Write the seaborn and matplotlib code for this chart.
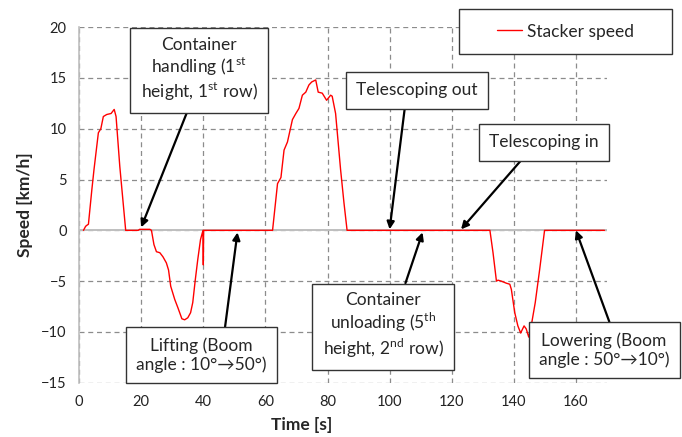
"""
Stacker speed over one handling cycle, with the phase annotations.
"""

import matplotlib
matplotlib.use("Agg")
import matplotlib.pyplot as plt
import matplotlib.patches as mpatches
import pandas as pd
import seaborn as sns

# speed trace (time in s, speed in km/h)
time_s = [1.4, 2.1, 2.5, 3.0, 4.1, 4.8, 6.2, 7.0, 7.8, 8.9, 10.3, 10.8, 11.3,
          11.9, 13.1, 15.0, 19.0, 19.5, 22.8, 23.3, 24.1, 24.9, 26.0, 27.0,
          28.1, 28.8, 29.5, 30.8, 31.8, 33.1, 34.0, 35.0, 35.9, 36.6, 37.4,
          38.2, 39.1, 39.9, 40.0, 40.1, 62.3, 63.9, 65.0, 66.0, 67.1, 68.7,
          69.8, 70.8, 71.9, 73.0, 74.0, 74.9, 76.2, 77.0, 78.3, 79.7, 81.0,
          81.5, 82.6, 84.2, 85.3, 86.3, 132.3, 133.3, 134.4, 134.9, 136.0,
          137.6, 138.7, 139.2, 140.3, 141.3, 142.2, 143.3, 144.0, 144.8,
          145.6, 146.9, 148.3, 149.9, 169.2]
speed_kmh = [0.0, 0.4, 0.5, 0.6, 4.0, 6.0, 9.6, 10.0, 11.2, 11.4, 11.5, 11.7,
             11.9, 11.2, 6.3, 0.0, 0.0, 0.1, 0.1, 0.0, -1.4, -2.1, -2.2, -2.6,
             -3.2, -3.9, -5.5, -6.8, -7.6, -8.7, -8.8, -8.6, -8.1, -7.1, -4.9,
             -2.9, -0.9, 0.0, -3.4, 0.0, 0.0, 4.6, 5.2, 7.9, 8.7, 10.9, 11.5,
             12.0, 13.3, 13.6, 14.3, 14.6, 14.8, 13.6, 13.5, 12.8, 13.3, 13.2,
             11.5, 6.0, 2.7, 0.0, 0.0, -2.2, -5.0, -4.9, -5.0, -5.2, -5.3,
             -5.8, -8.1, -9.4, -10.1, -9.4, -9.7, -10.5, -9.4, -7.1, -3.9,
             0.0, 0.0]

x_ticks = [0, 20, 40, 60, 80, 100, 120, 140, 160]
y_ticks = [-15, -10, -5, 0, 5, 10, 15, 20]

# annotation labels, arrow tips (data) and box centres (data)
labels = [
    "Container\nhandling (1$^{\\mathrm{st}}$\nheight, 1$^{\\mathrm{st}}$ row)",
    "Telescoping out",
    "Telescoping in",
    "Lifting (Boom\nangle : 10°→50°)",
    "Container\nunloading (5$^{\\mathrm{th}}$\nheight, 2$^{\\mathrm{nd}}$ row)",
    "Lowering (Boom\nangle : 50°→10°)",
]
tips = [(20, 0.3), (100, 0.1), (123, 0.1), (51, -0.2), (110.6, -0.2), (160, 0.0)]
boxes = [(38.6, 15.8), (108.8, 13.8), (149.7, 8.65), (39.4, -12.3),
         (97.9, -9.4), (169.1, -11.8)]
rel_starts = [(0.43, 0), (0.41, 0), (0.37, 0), (0.67, 1), (0.66, 1), (0.57, 1)]

df = pd.DataFrame({"time": time_s, "speed": speed_kmh})

sns.set_theme(style="white")
plt.rcParams["font.family"] = ["Lato", "DejaVu Sans"]
plt.rcParams["mathtext.fontset"] = "custom"
plt.rcParams["mathtext.rm"] = "Lato"

fig = plt.figure(figsize=(6.82, 4.37), dpi=100)
ax = fig.add_axes([0.116, 0.124, 0.774, 0.814])

ax.axhline(0, color="#bfbfbf", lw=1.4, zorder=1)
sns.lineplot(data=df, x="time", y="speed", color="#ff0000", lw=1.0,
             estimator=None, ax=ax, label="Stacker speed", legend=False,
             zorder=3)

ax.set_xlim(0, 170)
ax.set_ylim(-15, 20)
ax.set_xticks(x_ticks)
ax.set_yticks(y_ticks)
ax.tick_params(length=0, labelsize=10.5, pad=9, colors="#222222")
ax.grid(True, color="#8c8c8c", ls=(0, (4, 3)), lw=0.9)
for side in ["top", "right", "bottom"]:
    ax.spines[side].set_visible(False)
ax.spines["left"].set_color("#bfbfbf")
ax.spines["left"].set_linewidth(1.2)

ax.set_xlabel("Time [s]", fontsize=12.5, fontweight="bold")
ax.set_ylabel("Speed [km/h]", fontsize=12.5, fontweight="bold", labelpad=6)
ax.xaxis.set_label_coords(0.422, -0.095)

for text, tip, box, rel in zip(labels, tips, boxes, rel_starts):
    ax.annotate(text, xy=tip, xytext=box, textcoords="data",
                ha="center", va="center", fontsize=12.5, linespacing=1.15,
                bbox=dict(boxstyle="square,pad=0.6", fc="white",
                          ec="#333333", lw=1.0),
                arrowprops=dict(arrowstyle="-|>", color="black", lw=1.6,
                                mutation_scale=11, relpos=rel,
                                shrinkA=0, shrinkB=0),
                zorder=5, annotation_clip=False)

# legend frame drawn in figure pixels, legend itself frameless and centred
frame = mpatches.Rectangle((459 / 682, 1 - 54 / 437), 213 / 682, 45 / 437,
                           transform=fig.transFigure, fc="white",
                           ec="#333333", lw=1.0, zorder=4)
fig.patches.append(frame)
handles, names = ax.get_legend_handles_labels()
fig.legend(handles, names, loc="center",
           bbox_to_anchor=(565.5 / 682, 1 - 31.5 / 437), frameon=False,
           fontsize=12.5, handlelength=1.4, handletextpad=0.3)

fig.savefig("out.png", dpi=100)
